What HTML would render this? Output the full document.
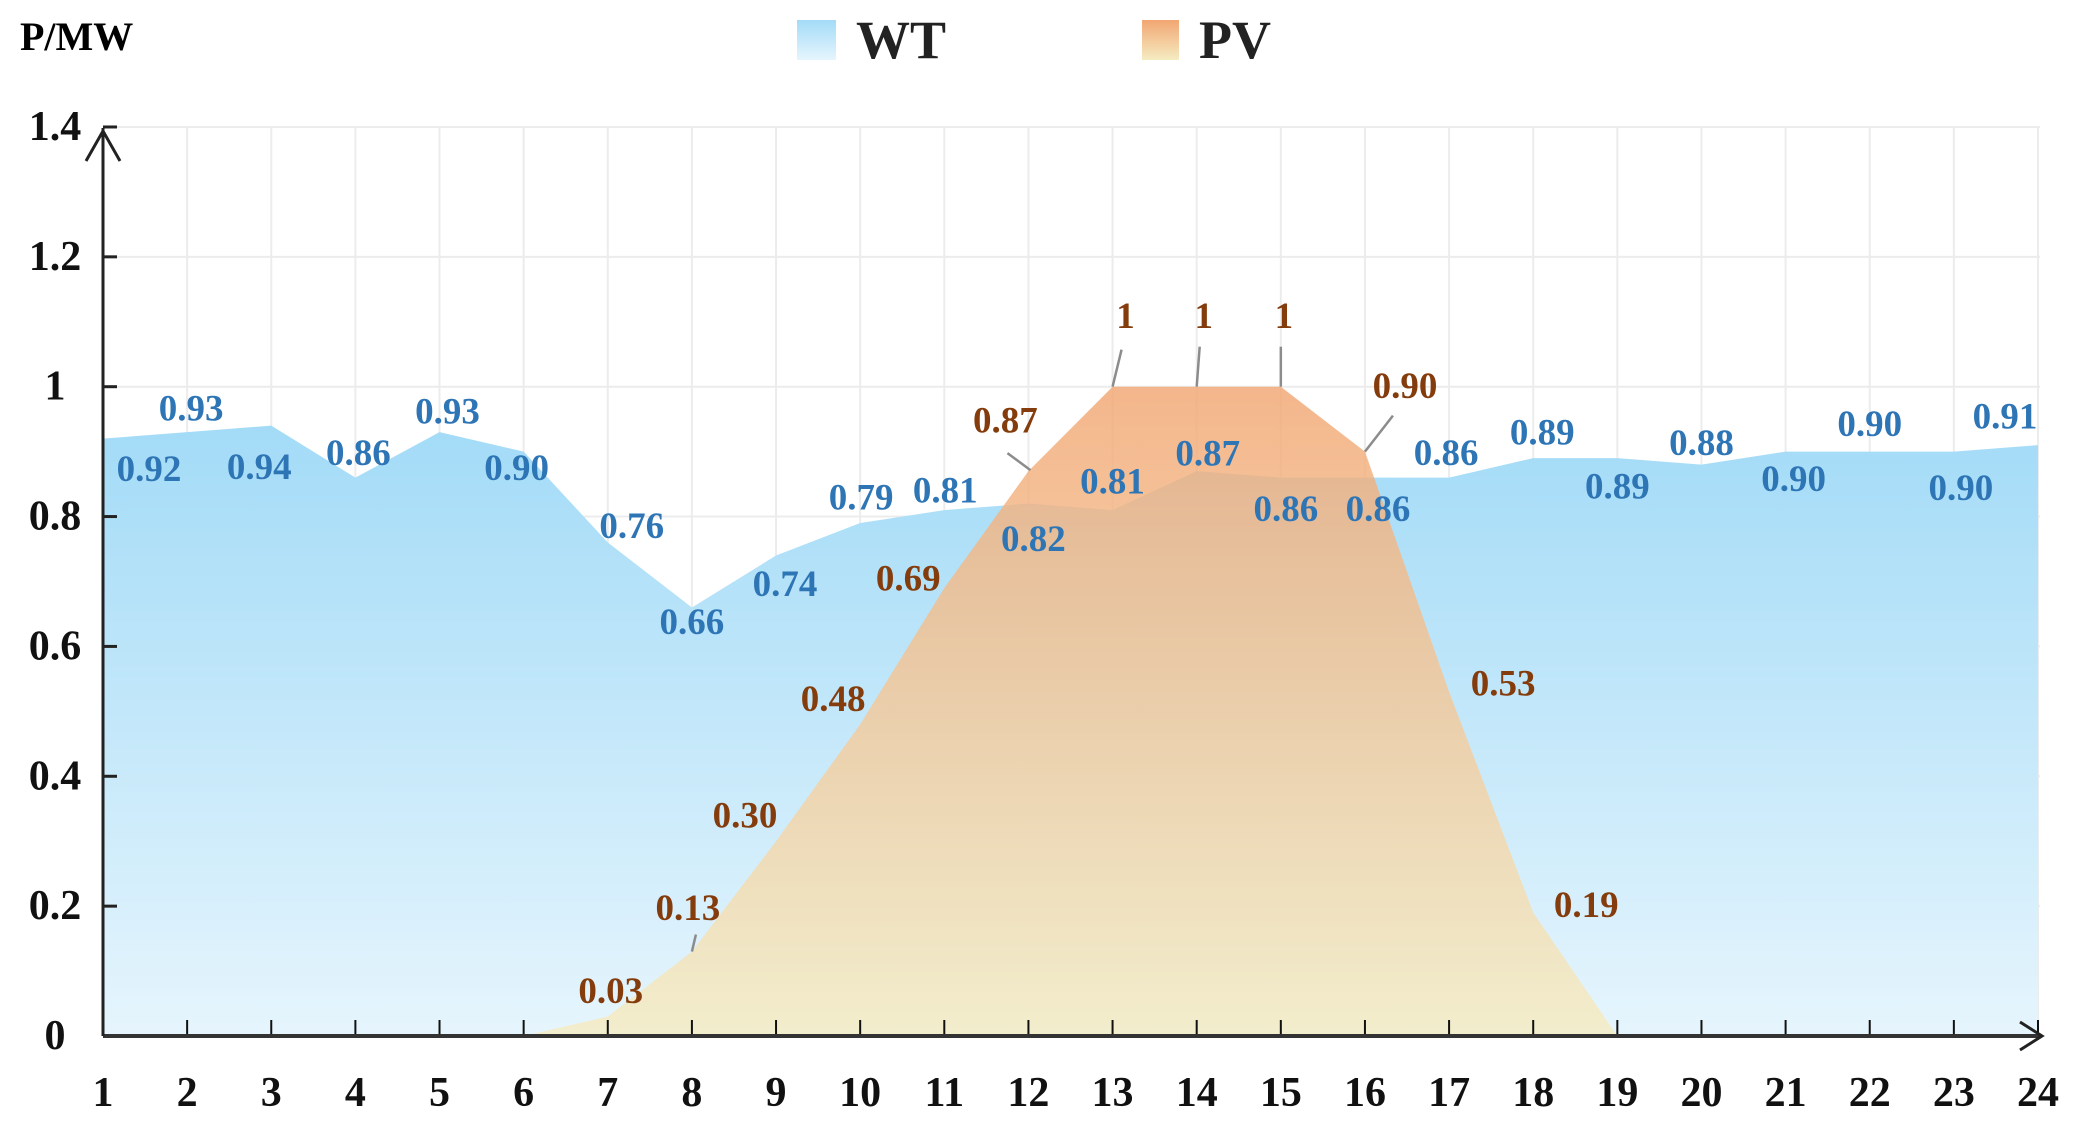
<!DOCTYPE html>
<html><head><meta charset="utf-8"><style>
html,body{margin:0;padding:0;background:#fff;}
svg{display:block;font-family:"Liberation Serif",serif;font-weight:bold;}
</style></head><body>
<svg id="chart" width="2075" height="1131" viewBox="0 0 2075 1131" xmlns="http://www.w3.org/2000/svg">
<defs>
<linearGradient id="wtGrad" x1="0" y1="0" x2="0" y2="1"><stop offset="0" stop-color="#a3dbf7"/><stop offset="1" stop-color="#e6f5fd"/></linearGradient>
<linearGradient id="pvGrad" x1="0" y1="0" x2="0" y2="1"><stop offset="0" stop-color="#f2a672"/><stop offset="1" stop-color="#f5ecc2"/></linearGradient>
<linearGradient id="wtLeg" x1="0" y1="0" x2="0" y2="1"><stop offset="0" stop-color="#a3dbf7"/><stop offset="1" stop-color="#e6f5fd"/></linearGradient>
<linearGradient id="pvLeg" x1="0" y1="0" x2="0" y2="1"><stop offset="0" stop-color="#f2a672"/><stop offset="1" stop-color="#f5ecc2"/></linearGradient>
</defs>
<g id="grid"></g>
<g id="areas"></g>
<g id="axes"></g>
<g id="labels"></g>
<text x="20" y="50" font-size="40" fill="#000">P/MW</text>
<rect x="797" y="20" width="39" height="40" fill="url(#wtLeg)"/>
<text x="856" y="58" font-size="54" fill="#222">WT</text>
<rect x="1142" y="20" width="37" height="40" fill="url(#pvLeg)"/>
<text x="1199" y="58" font-size="54" fill="#222">PV</text>
</svg>
<script>
const hours = [1,2,3,4,5,6,7,8,9,10,11,12,13,14,15,16,17,18,19,20,21,22,23,24];
const wtValues = [0.92,0.93,0.94,0.86,0.93,0.90,0.76,0.66,0.74,0.79,0.81,0.82,0.81,0.87,0.86,0.86,0.86,0.89,0.89,0.88,0.90,0.90,0.90,0.91];
const pvValues = [0,0,0,0,0,0,0.03,0.13,0.30,0.48,0.69,0.87,1,1,1,0.90,0.53,0.19,0,0,0,0,0,0];
const pvLabelText = ["","","","","","","0.03","0.13","0.30","0.48","0.69","0.87","1","1","1","0.90","0.53","0.19","","","","","",""];
const yTicks = [0,0.2,0.4,0.6,0.8,1,1.2,1.4];
const yTickLabels = ["0","0.2","0.4","0.6","0.8","1","1.2","1.4"];

const wtDx=[46,4,-12,3,8,-7,24,0,9,1,1,5,0,11,5,13,-3,9,0,0,8,0,7,-33];
const wtDy=[31,-23,42,-24,-20,17,-16,15,29,-25,-19,36,-28,-17,32,32,-24,-25,29,-21,28,-27,37,-28];
const pvDx=[0,0,0,0,0,0,3,-4,-31,-27,-36,-23,13,7,3,40,54,53,0,0,0,0,0,0];
const pvDy=[0,0,0,0,0,0,-25,-43,-25,-25,-9,-50,-70,-70,-70,-65,-8,-7,0,0,0,0,0,0];
const leaders={7:[[0,0],[4,-17]],11:[[2,-1],[-21,-18]],12:[[0,0],[9,-37]],13:[[0,0],[3,-40]],14:[[0,0],[0,-40]],15:[[0,0],[28,-36]]};

const X0=103, XS=84.13, Y0=1036, YS=649.3;
const xs=h=>X0+(h-1)*XS;
const ys=v=>Y0-v*YS;
const NS="http://www.w3.org/2000/svg";
function mk(tag,attrs,parent){const e=document.createElementNS(NS,tag);for(const k in attrs)e.setAttribute(k,attrs[k]);parent.appendChild(e);return e;}
const grid=document.getElementById('grid'),areas=document.getElementById('areas'),axes=document.getElementById('axes'),labels=document.getElementById('labels');

yTicks.forEach((t,i)=>{
  if(t>0){const l=mk('line',{x1:X0,x2:2040,y1:ys(t),y2:ys(t),stroke:'#ececec','stroke-width':2},grid);
  
  }
  const tk=mk('line',{x1:X0,x2:X0+14,y1:ys(t),y2:ys(t),stroke:'#222','stroke-width':3},axes);
  
  
  const tx=mk('text',{x:55,y:ys(t),'font-size':42,'text-anchor':'middle','dominant-baseline':'central',fill:'#111'},axes);
  tx.textContent=yTickLabels[i];
  
  
});
hours.forEach(h=>{
  if(h>1){const l=mk('line',{x1:xs(h),x2:xs(h),y1:ys(1.4),y2:Y0,stroke:'#ececec','stroke-width':2},grid);
  
  }
});

let wtPts=hours.map((h,i)=>xs(h)+','+ys(wtValues[i])).join(' ');
const wt=mk('polygon',{points:xs(1)+','+Y0+' '+wtPts+' '+xs(24)+','+Y0,fill:'url(#wtGrad)'},areas);


let pvPts=hours.map((h,i)=>xs(h)+','+ys(pvValues[i])).join(' ');
const pv=mk('polygon',{points:xs(1)+','+Y0+' '+pvPts+' '+xs(24)+','+Y0,fill:'url(#pvGrad)','fill-opacity':0.82},areas);



hours.forEach(h=>{
  const tk=mk('line',{x1:xs(h),x2:xs(h),y1:Y0,y2:Y0-16,stroke:'#111','stroke-width':2},axes);
  
  
  const tx=mk('text',{x:xs(h),y:1093,'font-size':42,'text-anchor':'middle','dominant-baseline':'central',fill:'#111'},axes);
  tx.textContent=String(h);
  
  
});
const xa=mk('line',{x1:X0,x2:2040,y1:Y0,y2:Y0,stroke:'#333','stroke-width':4},axes);


const xar=mk('polyline',{points:'2020,1022 2042,1036 2020,1050',fill:'none',stroke:'#222','stroke-width':3},axes);


const ya=mk('line',{x1:X0,x2:X0,y1:Y0,y2:128,stroke:'#222','stroke-width':3},axes);


const yar=mk('polyline',{points:'86,161 103,131 120,161',fill:'none',stroke:'#222','stroke-width':3},axes);



hours.forEach((h,i)=>{
  const t=mk('text',{x:xs(h)+wtDx[i],y:ys(wtValues[i])+wtDy[i],'font-size':37,'text-anchor':'middle','dominant-baseline':'central',fill:'#2e75b6'},labels);
  t.textContent=wtValues[i].toFixed(2);
  
  
  if(pvLabelText[i]){
    const p=mk('text',{x:xs(h)+pvDx[i],y:ys(pvValues[i])+pvDy[i],'font-size':37,'text-anchor':'middle','dominant-baseline':'central',fill:'#843c0c'},labels);
    p.textContent=pvLabelText[i];
    
    
  }
  if(leaders[i]){
    const [a,b]=leaders[i];const px=xs(h),py=ys(pvValues[i]);
    const l=mk('line',{x1:px+a[0],y1:py+a[1],x2:px+b[0],y2:py+b[1],stroke:'#8c8c8c','stroke-width':2.5},labels);
    
    
  }
});
</script>
</body></html>
